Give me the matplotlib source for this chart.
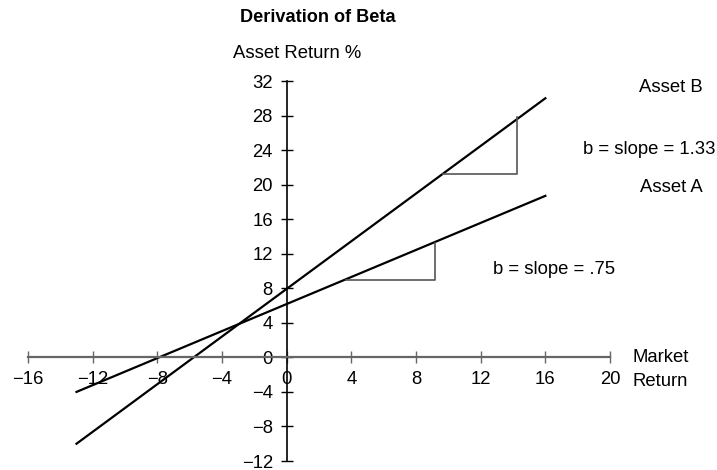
import numpy as np
import matplotlib
matplotlib.use("Agg")
import matplotlib.pyplot as plt

plt.rcParams['font.family'] = ['Liberation Sans', 'DejaVu Sans']

# market return range the lines are drawn over
mkt = [-13, 16]
asset_b = [-10, 30]
asset_a = [-4, 18.7]

# slope triangles (x start, x end, y base, y top)
tri_b = [9.65, 14.27, 21.26, 27.8]
tri_a = [3.7, 9.2, 9.0, 13.3]

xticks = [-16, -12, -8, -4, 0, 4, 8, 12, 16, 20]
yticks = [-12, -8, -4, 0, 4, 8, 12, 16, 20, 24, 28, 32]

fs = 13.3

fig = plt.figure(figsize=(7.17, 4.70), dpi=100)
ax = fig.add_axes([28/717, 9/470, (610-28)/717, (461-81)/470])
ax.set_xlim(-16, 20)
ax.set_ylim(-12, 32)

ax.spines['left'].set_position(('data', 0))
ax.spines['bottom'].set_position(('data', 0))
ax.spines['right'].set_visible(False)
ax.spines['top'].set_visible(False)
ax.spines['bottom'].set_color('#666666')
ax.spines['bottom'].set_linewidth(1.6)
ax.spines['left'].set_color('black')
ax.spines['left'].set_linewidth(1.2)

ax.set_xticks(xticks)
ax.set_yticks(yticks)
ax.set_xticklabels([str(t).replace('-', '\u2212') for t in xticks])
ax.set_yticklabels([str(t).replace('-', '\u2212') for t in yticks])
ax.tick_params(axis='x', direction='inout', length=8, width=1, color='#666666',
               labelsize=fs, pad=6)
ax.tick_params(axis='y', direction='inout', length=8, width=1, color='black',
               labelsize=fs, pad=6)

ax.plot(mkt, asset_b, color='black', lw=1.6)
ax.plot(mkt, asset_a, color='black', lw=1.6)

for x0, x1, yb, yt in (tri_b, tri_a):
    ax.plot([x0, x1, x1], [yb, yb, yt], color='#555555', lw=1.2)

fig.text(318/717, 1 - 17/470, 'Derivation of Beta', ha='center', va='center',
         fontsize=13.1, fontweight='bold')
fig.text(297/717, 1 - 53/470, 'Asset Return %', ha='center', va='center', fontsize=fs)
fig.text(671/717, 1 - 87/470, 'Asset B', ha='center', va='center', fontsize=fs)
fig.text(649/717, 1 - 150/470, 'b = slope = 1.33', ha='center', va='center', fontsize=fs)
fig.text(671/717, 1 - 187/470, 'Asset A', ha='center', va='center', fontsize=fs)
fig.text(554/717, 1 - 269/470, 'b = slope = .75', ha='center', va='center', fontsize=fs)
fig.text(632/717, 1 - 358/470, 'Market', ha='left', va='center', fontsize=fs)
fig.text(632/717, 1 - 382/470, 'Return', ha='left', va='center', fontsize=fs)

fig.savefig('out.png', dpi=100)
